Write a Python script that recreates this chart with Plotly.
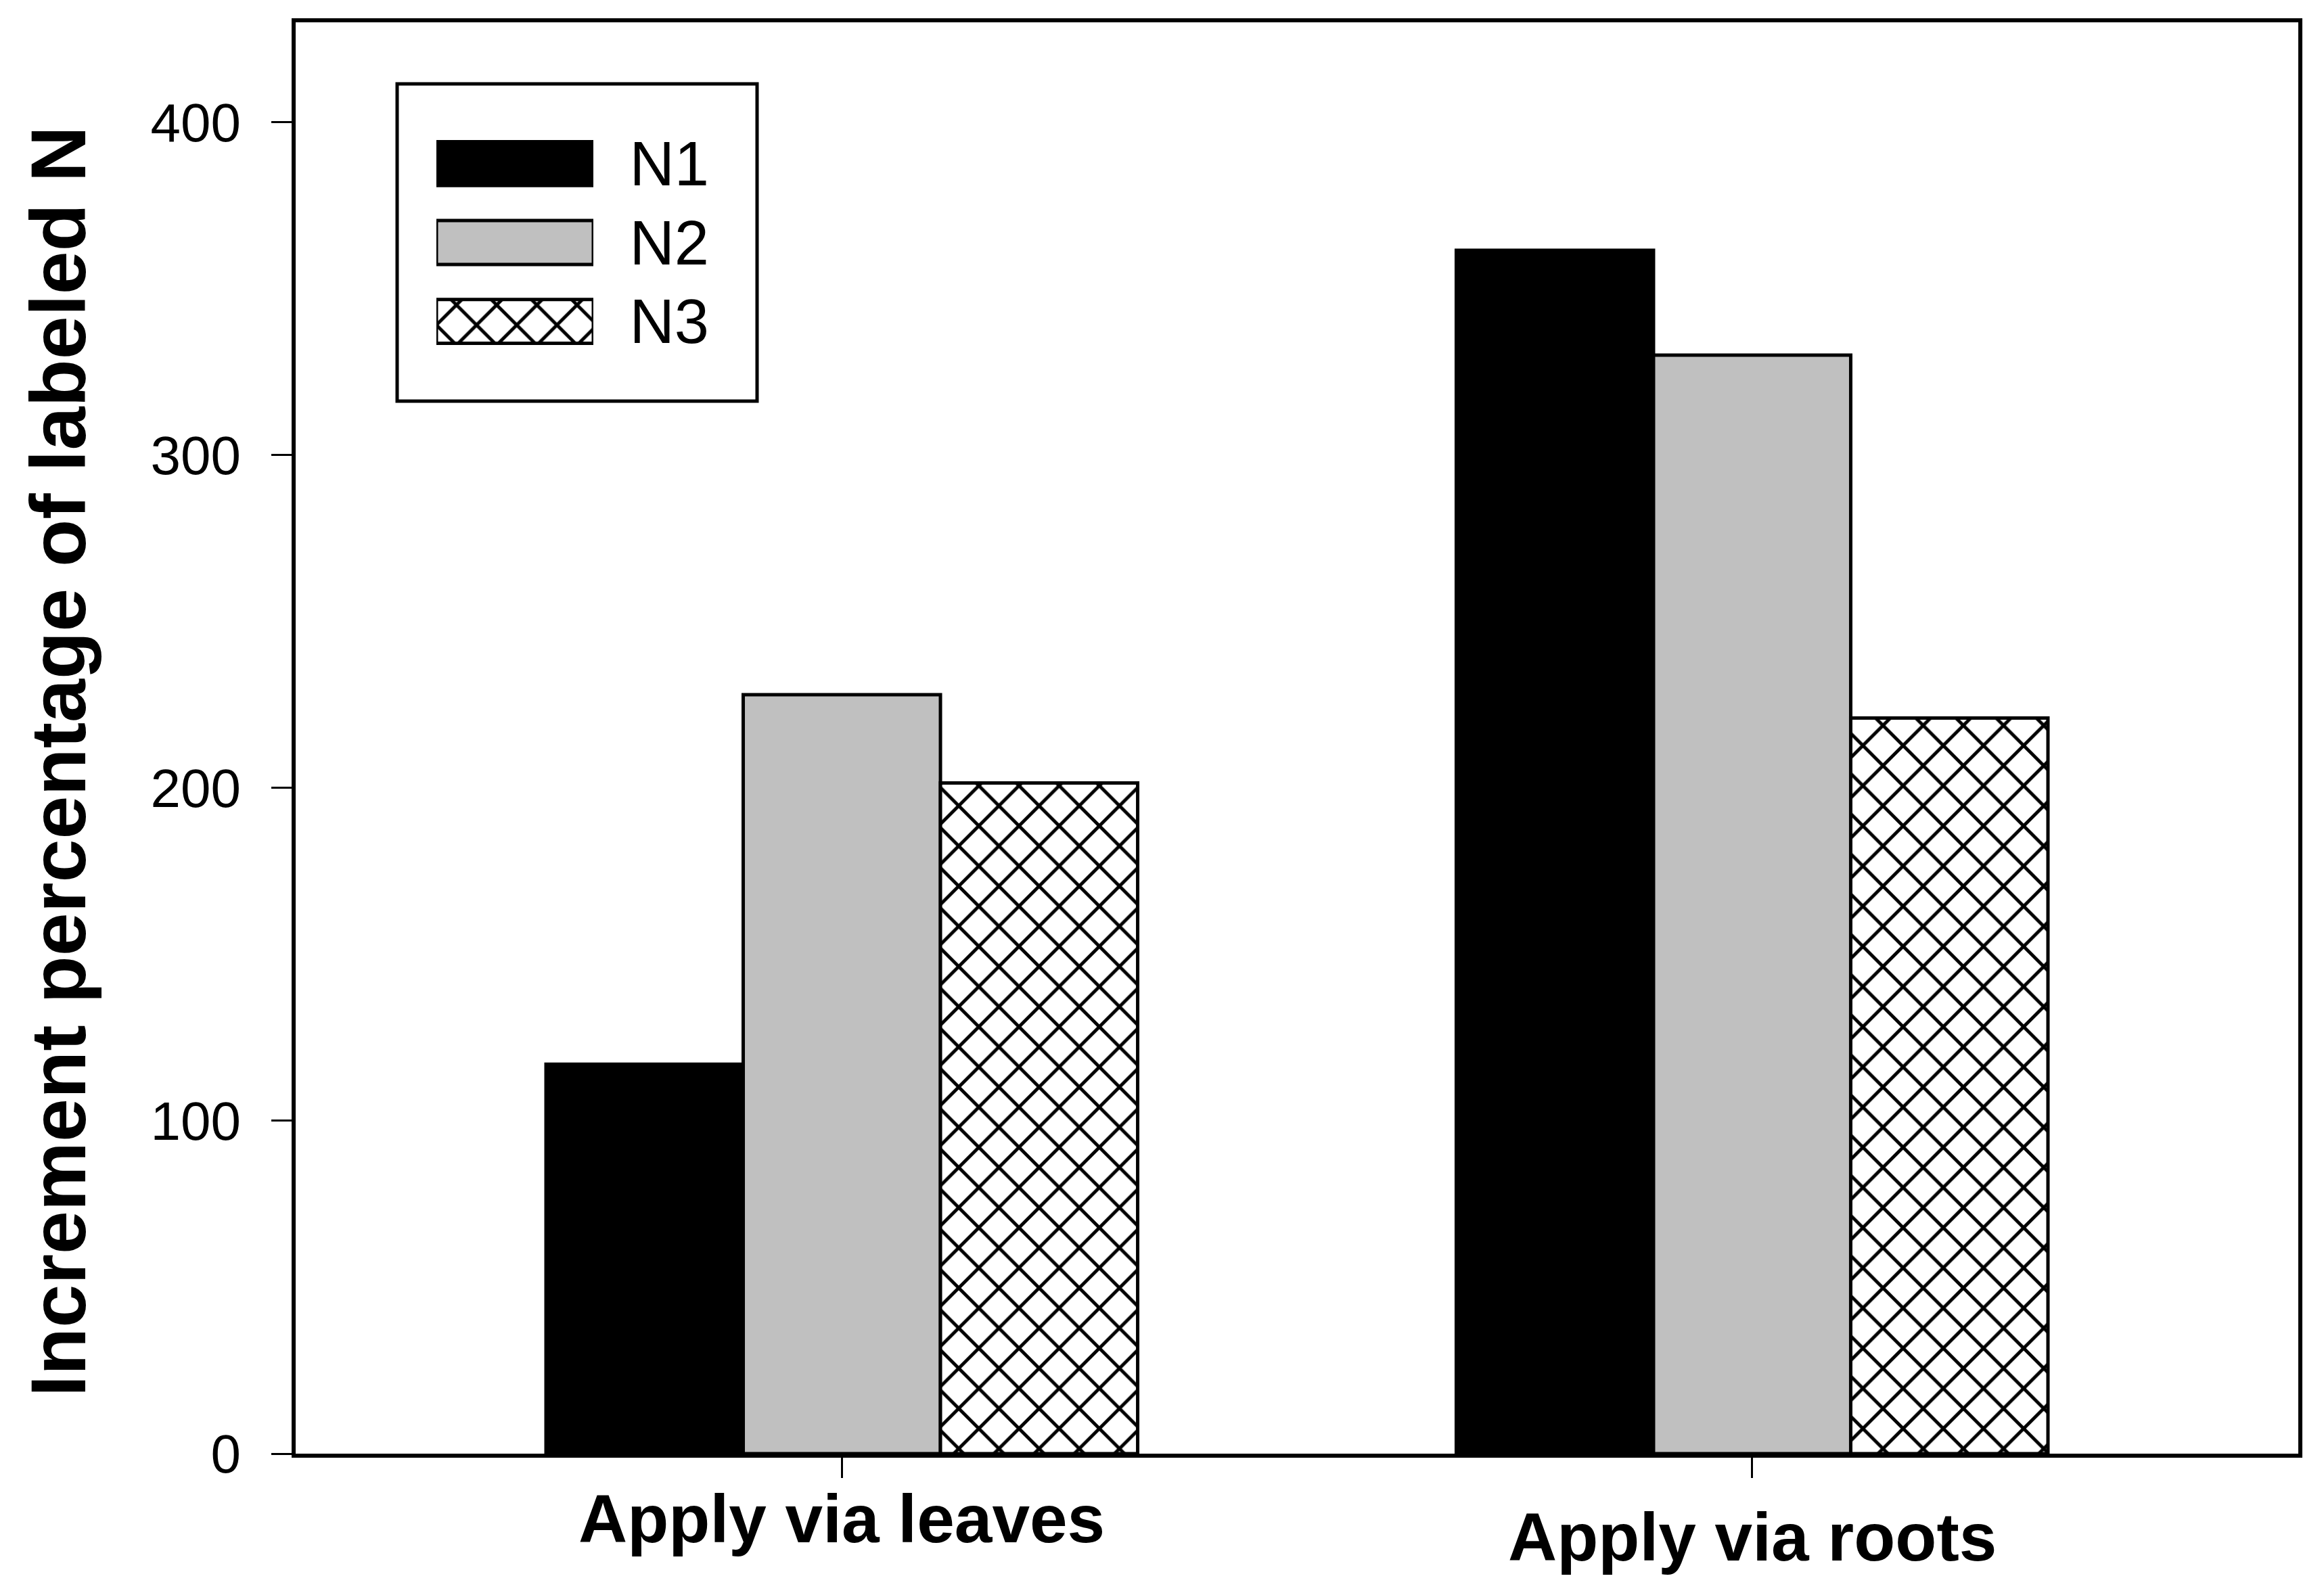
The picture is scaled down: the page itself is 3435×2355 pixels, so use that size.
import plotly.graph_objects as go

# ---- data ----
categories = ["Apply via leaves", "Apply via roots"]
series_names = ["N1", "N2", "N3"]
n1_values = [117.0, 361.5]
n2_values = [228.0, 330.0]
n3_values = [201.5, 221.0]
y_tick_values = [0, 100, 200, 300, 400]
y_title = "Increment percentage of labeled N"

series_values = {"N1": n1_values, "N2": n2_values, "N3": n3_values}

# ---- layout geometry (pixels, in the page) ----
OFF = 4
W, H = 3435 - 2 * OFF, 2355 - 2 * OFF
PL, PR, PT, PB = 433, 3393, 29, 2145  # plot area in page pixels
L = PL - OFF
R = (OFF + W) - PR
T = PT - OFF
B = (OFF + H) - PB
PW = PR - PL
PH = PB - PT


def px_x(p):
    return (p - PL) / PW


def px_y(p):
    return (PB - p) / PH


FONT = "Liberation Sans, Arial, Helvetica, sans-serif"
OUT = 5

styles = {
    "N1": dict(color="black", line=dict(color="black", width=OUT)),
    "N2": dict(color="#c0c0c0", line=dict(color="black", width=OUT)),
    "N3": dict(color="white", line=dict(color="black", width=OUT),
               pattern=dict(shape="x", size=42, solidity=0.22,
                            fgcolor="black", bgcolor="white", fillmode="replace")),
}

fig = go.Figure()

for name in series_names:
    fig.add_trace(go.Bar(
        x=categories, y=series_values[name], name=name,
        marker=styles[name], showlegend=False,
        xaxis="x", yaxis="y",
    ))

# legend swatches drawn as a small subplot
for name in series_names:
    fig.add_trace(go.Bar(
        x=[1], y=[name], orientation="h", name=name,
        marker=styles[name], showlegend=False,
        width=0.556, offset=-0.278,
        xaxis="x2", yaxis="y2", hoverinfo="skip",
    ))

label_y_px = [2241, 2268]
annotations = []
for cat, ypx in zip(categories, label_y_px):
    annotations.append(dict(
        x=cat, xref="x", y=px_y(ypx), yref="paper",
        text=cat, showarrow=False, xanchor="center", yanchor="middle",
        font=dict(family=FONT, size=100, color="black", weight="bold"),
    ))
annotations.append(dict(
    x=px_x(82), xref="paper", y=px_y(1122), yref="paper",
    text=y_title, textangle=-90, showarrow=False,
    xanchor="center", yanchor="middle",
    font=dict(family=FONT, size=115, color="black", weight="bold"),
))

fig.update_layout(
    width=W, height=H,
    margin=dict(l=L, r=R, t=T, b=B, pad=0),
    paper_bgcolor="white", plot_bgcolor="white",
    barmode="group", bargap=0.35, bargroupgap=0,
    showlegend=False,
    font=dict(family=FONT, color="black"),
    xaxis=dict(
        type="category", range=[-0.6, 1.6],
        showline=True, linewidth=6, linecolor="black", mirror=True,
        ticks="outside", ticklen=30, tickwidth=3, tickcolor="black",
        showticklabels=False, showgrid=False, zeroline=False,
    ),
    yaxis=dict(
        range=[0, 430], tickvals=y_tick_values,
        showline=True, linewidth=6, linecolor="black", mirror=True,
        ticks="outside", ticklen=30, tickwidth=3, tickcolor="black",
        tickfont=dict(family=FONT, size=80, color="black"),
        ticklabelstandoff=29,
        showgrid=False, zeroline=False,
    ),
    xaxis2=dict(
        domain=[px_x(641), px_x(873)], range=[0, 1], anchor="y2",
        visible=False, fixedrange=True,
    ),
    yaxis2=dict(
        domain=[px_y(529.5), px_y(179.5)], anchor="x2", side="right",
        type="category", categoryorder="array", categoryarray=series_names,
        range=[2.5, -0.5],
        showline=False, showgrid=False, zeroline=False,
        ticks="outside", ticklen=34, tickcolor="rgba(0,0,0,0)",
        tickfont=dict(family=FONT, size=92, color="black"),
        fixedrange=True,
    ),
    shapes=[dict(
        type="rect", xref="paper", yref="paper",
        x0=px_x(583), x1=px_x(1115), y0=px_y(589), y1=px_y(120),
        line=dict(color="black", width=5), fillcolor="rgba(0,0,0,0)",
        layer="below",
    )],
    annotations=annotations,
)

fig.write_html("out.html")
